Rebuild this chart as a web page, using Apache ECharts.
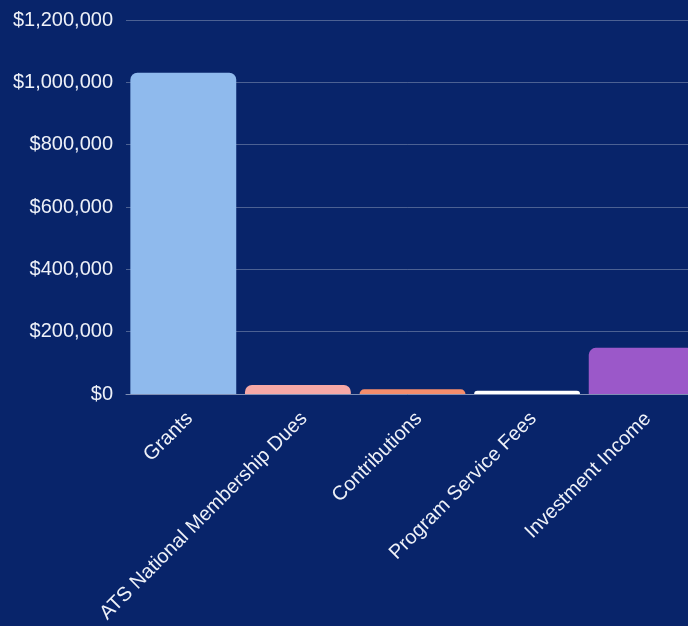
<!DOCTYPE html>
<html>
<head>
<meta charset="utf-8">
<script src="https://cdn.jsdelivr.net/npm/echarts@6/dist/echarts.min.js"></script>
<style>
html,body{margin:0;padding:0;background:#08246a;}
#c{width:688px;height:626px;}
</style>
</head>
<body>
<div id="c"></div>
<script>
const categories = ["Grants", "ATS National Membership Dues", "Contributions", "Program Service Fees", "Investment Income"];
const values = [1031000, 29000, 15000, 10500, 148000];
const barColors = ["#8fbaed", "#f6a8a6", "#f58d6c", "#ffffff", "#9b58c9"];
const yTicks = { min: 0, max: 1200000, interval: 200000 };

const chart = echarts.init(document.getElementById('c'));
chart.setOption({
  backgroundColor: '#08246a',
  animation: false,
  grid: { left: 126, right: -11, top: 20, bottom: 232, containLabel: false, outerBoundsMode: 'none' },
  xAxis: {
    type: 'category',
    data: categories,
    axisLine: { show: true, lineStyle: { color: '#7f8fb5', width: 1 } },
    axisTick: { show: false },
    axisLabel: {
      rotate: 45,
      interval: 0,
      margin: 28,
      padding: [0, -9, 0, 0],
      color: '#eef1f8',
      fontSize: 20,
      fontFamily: 'Liberation Sans, Arial, sans-serif'
    }
  },
  yAxis: {
    type: 'value',
    min: yTicks.min,
    max: yTicks.max,
    interval: yTicks.interval,
    axisLine: { show: false },
    axisTick: { show: false },
    splitLine: { lineStyle: { color: 'rgba(255,255,255,0.28)', width: 1 } },
    axisLabel: {
      margin: 13,
      color: '#eef1f8',
      fontSize: 20,
      fontFamily: 'Liberation Sans, Arial, sans-serif',
      formatter: v => '$' + v.toLocaleString('en-US')
    }
  },
  series: [{
    type: 'bar',
    data: values.map((v, i) => ({ value: v, itemStyle: { color: barColors[i] } })),
    barCategoryGap: '7.6%',
    itemStyle: { borderRadius: [7, 7, 0, 0] }
  }]
});
</script>
</body>
</html>
